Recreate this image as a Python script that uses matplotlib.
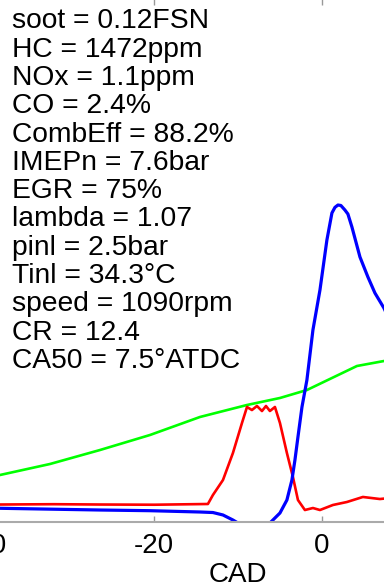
import matplotlib
matplotlib.use("Agg")
import matplotlib.pyplot as plt

plt.rcParams['font.family'] = ['Liberation Sans', 'DejaVu Sans']
plt.rcParams['axes.unicode_minus'] = False

# Crank angle traces (CAD) and signal levels (arbitrary units)
green_cad = [-40.0, -38.43, -32.46, -26.49, -20.51, -14.54, -8.92, -4.98, -1.76,
             0.99, 4.22, 7.44, 10.0]
green_val = [8.5, 8.98, 11.08, 13.75, 16.62, 20.06, 22.35, 23.69, 25.21,
             27.32, 29.80, 30.75, 31.3]

red_cad = [-40.0, -38.43, -32.0, -26.49, -20.0, -13.59, -12.99, -11.79, -10.60,
           -9.52, -8.92, -8.33, -7.73, -7.13, -6.65, -6.18, -5.58, -4.98,
           -4.15, -3.43, -2.83, -2.00, -1.04, -0.20, 1.35, 3.02, 4.93, 6.96, 8.16, 10.0]
red_val = [3.34, 3.34, 3.40, 3.34, 3.30, 3.44, 5.16, 8.02, 13.18,
           18.91, 21.97, 21.39, 22.16, 21.20, 22.16, 21.20, 21.97, 18.91,
           13.18, 8.60, 4.20, 2.29, 2.67, 2.29, 3.25, 3.82, 4.78, 4.39, 4.58, 4.5]

blue_cad = [-40.0, -38.43, -26.49, -20.51, -14.54, -12.99, -11.79, -10.60, -10.00,
            -8.57, -7.37, -6.41, -6.18, -4.98, -4.15, -3.55, -3.19, -2.83, -2.35,
            -1.76, -1.04, -0.20, 0.63, 1.23, 1.59, 1.95, 2.30, 2.78, 3.14, 3.62,
            4.58, 5.53, 6.37, 7.44, 8.39]
blue_val = [2.65, 2.62, 2.29, 2.16, 1.91, 1.81, 1.34, 0.38, -0.19,
            -2.48, -3.06, -1.53, -0.19, 1.72, 4.20, 8.02, 11.84, 16.24, 21.97,
            27.12, 36.68, 44.32, 53.87, 59.03, 60.10, 60.55, 60.46, 59.60, 58.83, 56.35,
            50.62, 46.80, 43.74, 40.88, 37.6]

x_ticks = [-40, -20, 0]

info_lines = [
    "soot = 0.12FSN",
    "HC = 1472ppm",
    "NOx = 1.1ppm",
    "CO = 2.4%",
    "CombEff = 88.2%",
    "IMEPn = 7.6bar",
    "EGR = 75%",
    "lambda = 1.07",
    "pinl = 2.5bar",
    "Tinl = 34.3°C",
    "speed = 1090rpm",
    "CR = 12.4",
    "CA50 = 7.5°ATDC",
]

W, H = 384, 587
fig = plt.figure(figsize=(W / 100, H / 100), dpi=100)

# axes box in pixels: spans beyond the visible canvas
left_px, right_px = -13.1, 489.0
bottom_px, top_px = 522.0, -1.5
ax = fig.add_axes([left_px / W, 1 - bottom_px / H,
                   (right_px - left_px) / W, (bottom_px - top_px) / H])

ax.plot(green_cad, green_val, color=(0, 1, 0), lw=1.9, solid_joinstyle='round')
ax.plot(red_cad, red_val, color=(1, 0, 0), lw=1.9, solid_joinstyle='round')
ax.plot(blue_cad, blue_val, color=(0, 0, 1), lw=2.3, solid_joinstyle='round')

ax.set_xlim(-40, 20)
ax.set_ylim(0, 100)
ax.set_xticks(x_ticks)
ax.set_yticks([])
for s in ax.spines.values():
    s.set_color('#aaaaaa')
    s.set_linewidth(1.5)
ax.tick_params(axis='x', direction='in', top=True, length=4, width=1,
               color='#999999', labelsize=20, pad=8, labelcolor='black')
ax.set_xlabel("CAD", fontsize=20, labelpad=2)

for i, line in enumerate(info_lines):
    base = 28.3 + i * 28.3
    fig.text(11.5 / W, 1 - base / H, line, fontsize=20.3, va='baseline',
             ha='left', color='black')

fig.savefig("out.png", dpi=100)
